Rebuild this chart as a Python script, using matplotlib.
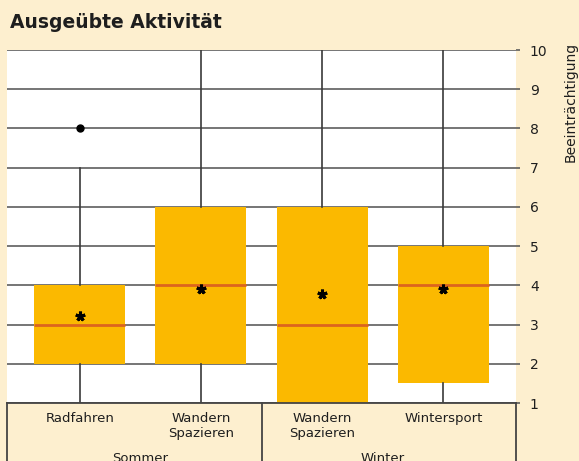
import matplotlib
matplotlib.use("Agg")
import matplotlib.pyplot as plt

# data
activities = ["Radfahren", "Wandern\nSpazieren", "Wandern\nSpazieren", "Wintersport"]
seasons = ["Sommer", "Winter"]
season_groups = [(0, 1), (2, 3)]
q1 = [2, 2, 1, 1.5]
medians = [3, 4, 3, 4]
q3 = [4, 6, 6, 5]
whisker_low = [1, 1, 1, 1]
whisker_high = [7, 10, 10, 10]
means = [3.22, 3.9, 3.77, 3.9]
outliers = [[8], [], [], []]
yticks = list(range(1, 11))

BG = "#fdefcf"
BOX = "#fbb900"
MED = "#dc641e"
GRID = "#5e5e5e"
TXT = "#1e1e1e"

fig = plt.figure(figsize=(5.79, 4.61), dpi=100, facecolor=BG)
W, H = 579, 461
ax = fig.add_axes([7 / W, 1 - 403 / H, (516 - 7) / W, (403 - 50) / H])
ax.set_facecolor("white")

stats = []
for i in range(len(activities)):
    stats.append(dict(med=medians[i], q1=q1[i], q3=q3[i], whislo=whisker_low[i],
                      whishi=whisker_high[i], mean=means[i], fliers=outliers[i]))

ax.bxp(stats, positions=range(len(activities)), widths=0.75, patch_artist=True,
       showmeans=True, showcaps=False, zorder=3,
       boxprops=dict(facecolor=BOX, edgecolor="none"),
       medianprops=dict(color=MED, linewidth=2),
       whiskerprops=dict(color="#3a3a3a", linewidth=1.2),
       meanprops=dict(marker=(5, 2, 0), markerfacecolor="black", markeredgecolor="black",
                      markersize=7, markeredgewidth=2.2),
       flierprops=dict(marker="o", markerfacecolor="black", markeredgecolor="black",
                       markersize=5))

ax.set_xlim(-0.6, 3.6)
ax.set_ylim(1, 10)
ax.set_yticks(yticks)
ax.yaxis.tick_right()
ax.tick_params(axis="y", length=3, width=1.2, color=GRID, labelsize=10,
               labelcolor=TXT, pad=7)
ax.set_xticks([])
ax.grid(axis="y", color=GRID, linewidth=1.2, zorder=1)
ax.set_axisbelow(True)
for s in ax.spines.values():
    s.set_visible(False)

# category table below the plot
tr = ax.get_xaxis_transform()
lw = 1.3
ax.plot([-0.6, 3.6], [0, 0], transform=tr, color="#444444", lw=lw, clip_on=False, zorder=5)
for xv in [-0.6, 1.5, 3.6]:
    ax.plot([xv, xv], [0, -0.25], transform=tr, color="#444444", lw=lw, clip_on=False)
for i, name in enumerate(activities):
    ax.text(i, -0.025, name, transform=tr, ha="center", va="top", fontsize=9.5,
            color=TXT, linespacing=1.25)
for name, (a, b) in zip(seasons, season_groups):
    ax.text((a + b) / 2, -0.138, name, transform=tr, ha="center", va="top",
            fontsize=9.5, color=TXT)

fig.text(10 / W, 1 - 22 / H, "Ausgeübte Aktivität", ha="left", va="center",
         fontsize=13.5, fontweight="bold", color=TXT)
fig.text(571 / W, 1 - 42 / H, "Beeinträchtigung", rotation=90, ha="center", va="top",
         fontsize=10, color=TXT)

fig.savefig("out.png", dpi=100, facecolor=BG)
